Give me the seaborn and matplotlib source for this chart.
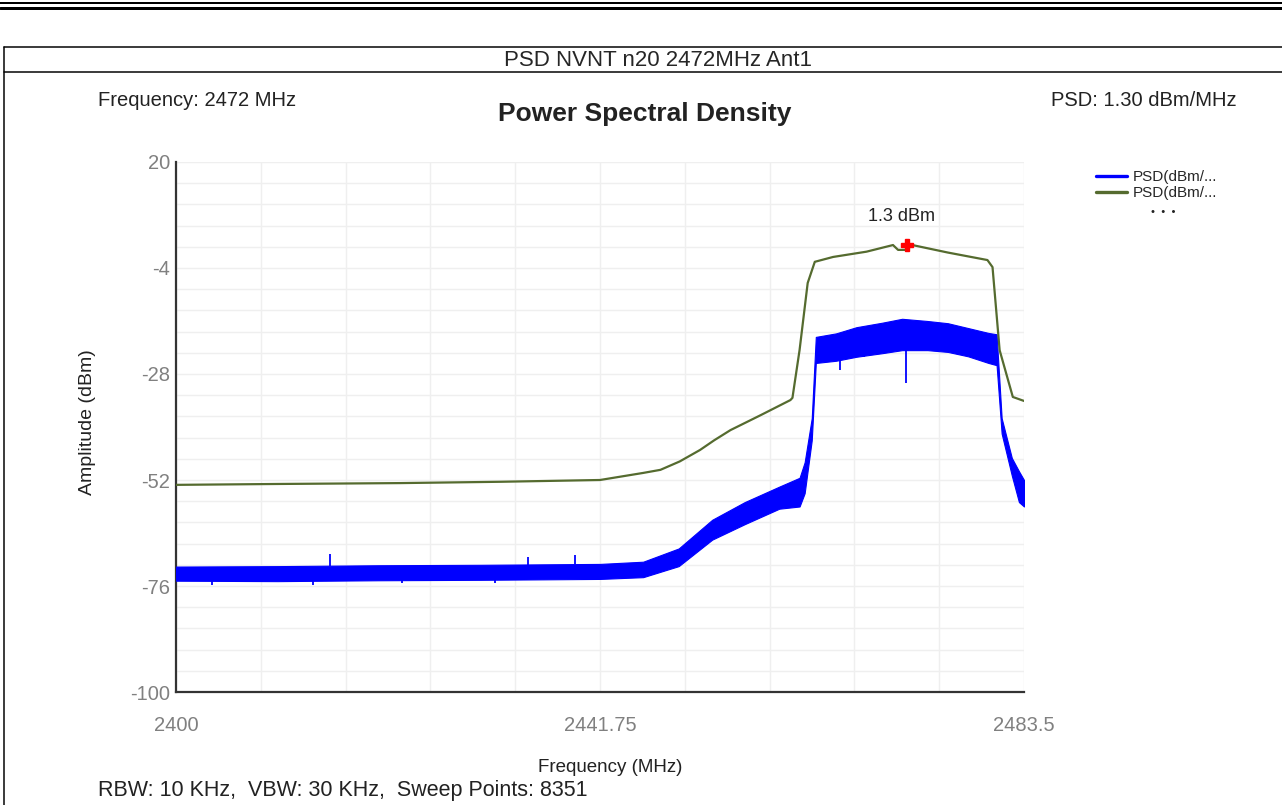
import matplotlib
matplotlib.use('Agg')
import matplotlib.pyplot as plt
import seaborn as sns
import numpy as np
import pandas as pd
from matplotlib.lines import Line2D
from matplotlib.ticker import FixedLocator

# olive trace (max hold)
olive_freq = [2400.0, 2410.0, 2422.1, 2432.0, 2441.75, 2446.0, 2447.7, 2449.6, 2451.6,
              2453.0, 2454.6, 2457.5, 2460.5, 2460.7, 2461.4, 2462.2, 2462.9, 2464.7,
              2468.0, 2470.6, 2471.1, 2471.8, 2472.5, 2476.0, 2479.9, 2480.4, 2481.1,
              2482.4, 2483.5]
olive_psd = [-53.1, -52.9, -52.7, -52.4, -52.0, -50.4, -49.7, -47.8, -45.2,
             -43.0, -40.7, -37.4, -33.9, -33.4, -22.6, -7.4, -2.6, -1.5,
             -0.3, 1.2, 0.1, 0.1, 1.2, -0.5, -2.2, -3.8, -22.6,
             -33.2, -34.1]

# blue trace (noisy clear-write), kept as lower / upper envelope
blue_freq = [2400.0, 2410.0, 2420.0, 2430.0, 2441.75, 2446.0, 2449.5, 2452.8, 2456.0,
             2459.4, 2461.4, 2461.9, 2462.6, 2463.0, 2465.0, 2467.0, 2469.5, 2471.5,
             2474.0, 2476.0, 2478.0, 2480.0, 2480.8, 2481.3, 2482.3, 2483.0, 2483.5]
blue_low = [-74.8, -74.9, -74.7, -74.6, -74.4, -74.0, -71.5, -65.5, -62.0,
            -58.5, -58.0, -55.0, -43.0, -25.5, -25.0, -24.1, -23.3, -22.6,
            -22.6, -23.0, -24.0, -25.5, -26.0, -41.5, -51.0, -57.0, -58.0]
blue_high = [-71.6, -71.5, -71.3, -71.2, -71.0, -70.5, -67.5, -61.0, -57.0,
             -53.5, -51.5, -48.0, -38.0, -19.6, -18.8, -17.4, -16.4, -15.5,
             -16.0, -16.5, -17.6, -18.7, -19.0, -38.0, -47.0, -50.0, -52.0]

# single spikes sticking out of the noise band
spike_freq = [2403.5, 2413.5, 2415.2, 2422.3, 2431.4, 2434.7, 2439.3, 2465.4, 2467.7, 2471.9]
spike_base = [-74.0, -74.0, -71.5, -74.0, -74.0, -71.3, -71.1, -22.0, -22.0, -17.0]
spike_tip = [-75.8, -75.8, -68.7, -75.3, -75.3, -69.4, -69.0, -27.1, -24.1, -30.0]

peak_freq = 2472.0
peak_psd = 1.3

x_ticks = [2400, 2441.75, 2483.5]
x_ticklabels = ['2400', '2441.75', '2483.5']
y_ticks = [20, -4, -28, -52, -76, -100]

W, H = 1282, 805


def fx(px):
    return px / W


def fy(py):
    return 1 - py / H


sns.set_style('white')
plt.rcParams['font.family'] = ['Liberation Sans', 'DejaVu Sans']
plt.rcParams['axes.unicode_minus'] = False

fig = plt.figure(figsize=(W / 100, H / 100), dpi=100)
ax = fig.add_axes([fx(176), fy(692), fx(1024) - fx(176), fy(162) - fy(692)])

# blue trace
ax.fill_between(blue_freq, blue_low, blue_high, color='#0000ff', edgecolor='#0000ff', linewidth=0.8, zorder=3)
ax.vlines(spike_freq, spike_base, spike_tip, color='#0000ff', linewidth=1.3, zorder=3)

# olive trace
olive = pd.DataFrame({'freq': olive_freq, 'psd': olive_psd})
sns.lineplot(data=olive, x='freq', y='psd', ax=ax, color='#556b2f', linewidth=1.6,
             estimator=None, sort=False, zorder=4)

# peak marker
ax.plot(peak_freq, peak_psd, marker='P', color='red', markersize=9, zorder=5)
ax.annotate(f'{peak_psd} dBm', (peak_freq, peak_psd), xytext=(-4, 20), textcoords='offset points',
            ha='center', va='center', fontsize=13, color='#222222')

ax.set_xlim(2400, 2483.5)
ax.set_ylim(-100, 20)
ax.set_xticks(x_ticks)
ax.set_xticklabels(x_ticklabels)
ax.set_yticks(y_ticks)
ax.xaxis.set_minor_locator(FixedLocator(np.linspace(2400, 2483.5, 11)))
ax.yaxis.set_minor_locator(FixedLocator(np.arange(-100, 20.1, 4.8)))
ax.grid(True, which='both', color='#efefef', linewidth=1)
ax.set_axisbelow(True)
ax.tick_params(axis='both', which='both', length=0, labelsize=14.5, labelcolor='#808080')
ax.tick_params(axis='x', pad=17)
ax.tick_params(axis='y', pad=4)

for side in ['top', 'right']:
    ax.spines[side].set_visible(False)
for side in ['left', 'bottom']:
    ax.spines[side].set_color('#333333')
    ax.spines[side].set_linewidth(1.6)

ax.set_xlabel('Frequency (MHz)', fontsize=13.5, color='#222222')
ax.set_ylabel('Amplitude (dBm)', fontsize=14, color='#222222')
ax.xaxis.set_label_coords((610 - 176) / 848, -(759 - 692) / 530)
ax.yaxis.set_label_coords(-(176 - 96) / 848, (692 - 422) / 530)

# legend
handles = [Line2D([], [], color='#0000ff', linewidth=2.4), Line2D([], [], color='#556b2f', linewidth=2.4)]
fig.legend(handles, ['PSD(dBm/...', 'PSD(dBm/...'], loc='upper left', bbox_to_anchor=(fx(1096), fy(170)),
           frameon=False, fontsize=11, handlelength=2.0, handletextpad=0.4, labelspacing=0.15,
           borderaxespad=0, borderpad=0)
fig.text(fx(1163), fy(212), '•  •  •', ha='center', va='center', fontsize=8, color='#222222')

# header texts
fig.text(fx(658), fy(60), 'PSD NVNT n20 2472MHz Ant1', ha='center', va='center', fontsize=16)
fig.text(fx(98), fy(101), 'Frequency: 2472 MHz', ha='left', va='center', fontsize=14.5, color='#222222')
fig.text(fx(645), fy(114), 'Power Spectral Density', ha='center', va='center', fontsize=19,
         fontweight='bold', color='#222222')
fig.text(fx(1237), fy(101), 'PSD: 1.30 dBm/MHz', ha='right', va='center', fontsize=14.5, color='#222222')
fig.text(fx(98), fy(790), 'RBW: 10 KHz,  VBW: 30 KHz,  Sweep Points: 8351', ha='left', va='center',
         fontsize=15.5, color='#222222')

# page frame lines
frame = [((0, 3), (W, 3), 2.0), ((0, 8.5), (W, 8.5), 3.0),
         ((4, 47), (W, 47), 1.5), ((4, 72), (W, 72), 1.5), ((4, 47), (4, H), 1.5)]
for (x0, y0), (x1, y1), lw in frame:
    fig.add_artist(Line2D([fx(x0), fx(x1)], [fy(y0), fy(y1)], color='black', linewidth=lw * 0.72))

fig.savefig('out.png', dpi=100)
